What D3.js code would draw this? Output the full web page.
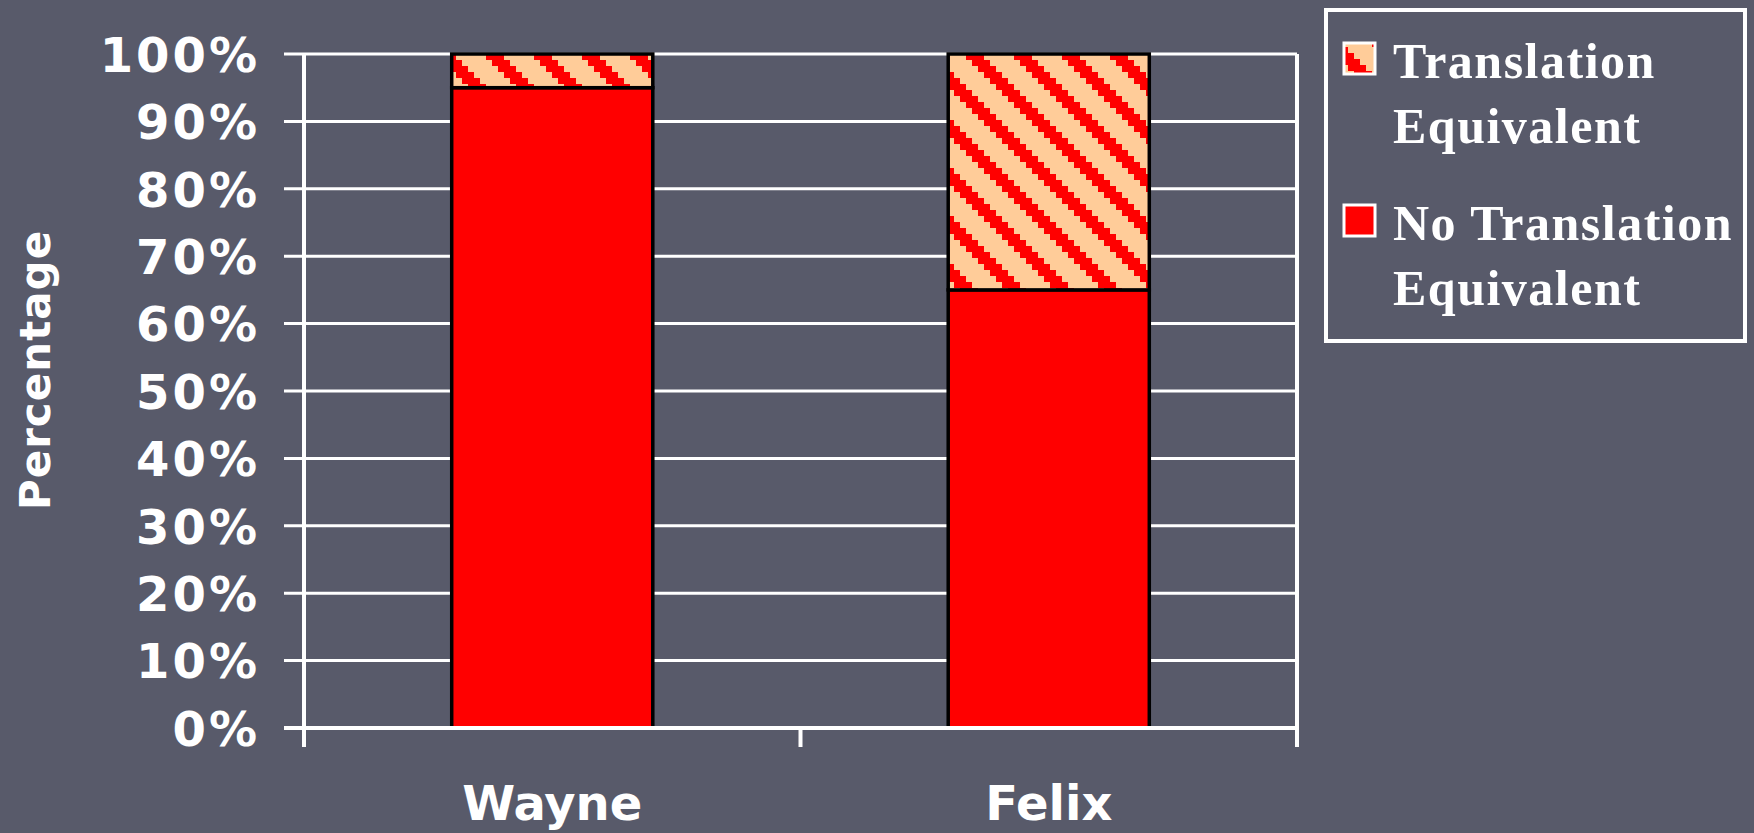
<!DOCTYPE html>
<html>
<head>
<meta charset="utf-8">
<script src="https://cdn.jsdelivr.net/npm/d3@7"></script>
<style>
  html, body { margin: 0; padding: 0; background: #585a6a; }
  svg { display: block; }
</style>
</head>
<body>
<script>
// data
const categories = ["Wayne", "Felix"]
const noTranslation = [95, 65]
const translation = [5, 35]
const seriesNames = ["Translation Equivalent", "No Translation Equivalent"]
const yTicks = [0, 10, 20, 30, 40, 50, 60, 70, 80, 90, 100]

const width = 1754, height = 833
const margin = ({ top: 54, right: 457, bottom: 105, left: 304 })
const bg = "#585a6a"
const red = "#ff0000", peach = "#ffcc99"

const svg = d3.select("body").append("svg")
    .attr("width", width)
    .attr("height", height)
    .attr("viewBox", [0, 0, width, height])

svg.append("rect").attr("width", width).attr("height", height).attr("fill", bg)

// hatch pattern, 8x8 cells like the office "wide downward diagonal"
const defs = svg.append("defs")
const makePattern = (id, cell, ox, oy) => {
    const p = defs.append("pattern")
        .attr("id", id)
        .attr("patternUnits", "userSpaceOnUse")
        .attr("x", ox || 0).attr("y", oy || 0)
        .attr("width", cell * 8).attr("height", cell * 8)
    p.append("rect").attr("width", cell * 8).attr("height", cell * 8).attr("fill", peach)
    const cells = []
    for (let j = 0; j < 8; j++)
        for (let i = 0; i < 8; i++)
            if (((i - j) % 8 + 8) % 8 < 3) cells.push([i, j])
    p.selectAll("rect.c").data(cells).join("rect")
        .attr("class", "c")
        .attr("x", d => d[0] * cell).attr("y", d => d[1] * cell)
        .attr("width", cell).attr("height", cell)
        .attr("fill", red)
}
makePattern("hatch", 6)
makePattern("hatchSmall", 6, 1330, 47)

const x = d3.scaleBand()
    .domain(categories)
    .range([margin.left, width - margin.right])
    .padding(0)

const y = d3.scaleLinear()
    .domain([0, 100])
    .range([height - margin.bottom, margin.top])

const x0 = margin.left, x1 = width - margin.right
const y0 = y(0)

// gridlines (they also make the left ticks)
svg.append("g")
    .attr("stroke", "#ffffff")
    .attr("stroke-width", 3)
  .selectAll("line")
  .data(yTicks)
  .join("line")
    .attr("x1", x0 - 20)
    .attr("x2", x1)
    .attr("y1", d => y(d))
    .attr("y2", d => y(d))

// category boundary ticks on the x axis
const bounds = categories.map(c => x(c)).concat([x1])
svg.append("g")
    .attr("stroke", "#ffffff")
    .attr("stroke-width", 4)
  .selectAll("line")
  .data(bounds)
  .join("line")
    .attr("x1", d => d).attr("x2", d => d)
    .attr("y1", y0).attr("y2", y0 + 19)

// left axis line + right border
svg.append("line")
    .attr("x1", x0).attr("x2", x0)
    .attr("y1", y(100)).attr("y2", y0 + 19)
    .attr("stroke", "#ffffff").attr("stroke-width", 4)
svg.append("line")
    .attr("x1", x1).attr("x2", x1)
    .attr("y1", y(100)).attr("y2", y0 + 19)
    .attr("stroke", "#ffffff").attr("stroke-width", 4)

// stacked bars
const table = categories.map((c, i) => ({ name: c, no: noTranslation[i], yes: translation[i] }))
const stack = d3.stack().keys(["no", "yes"])(table)
const fills = { no: red, yes: "url(#hatch)" }
const barW = x.bandwidth() * 0.405

svg.append("g")
  .selectAll("g")
  .data(stack)
  .join("g")
    .attr("fill", d => fills[d.key])
  .selectAll("rect")
  .data(d => d)
  .join("rect")
    .attr("x", d => x(d.data.name) + (x.bandwidth() - barW) / 2)
    .attr("y", d => y(d[1]))
    .attr("height", d => y(d[0]) - y(d[1]))
    .attr("width", barW)
    .attr("stroke", "#000000")
    .attr("stroke-width", 3.5)

// the zero line sits over the bar bottoms
svg.append("line")
    .attr("x1", x0 - 20).attr("x2", x1)
    .attr("y1", y0).attr("y2", y0)
    .attr("stroke", "#ffffff").attr("stroke-width", 4)

// y tick labels
const yAxis = g => g
    .attr("transform", `translate(${x0},0)`)
    .call(d3.axisLeft(y).tickValues(yTicks).tickFormat(d => d + "%").tickSize(0).tickPadding(44))
    .call(g => g.select(".domain").remove())
    .call(g => g.selectAll("text")
        .attr("fill", "#ffffff")
        .attr("font-family", "DejaVu Sans")
        .attr("font-weight", "bold")
        .attr("font-size", 48)
        .attr("letter-spacing", 3)
        .attr("dy", "0.36em"))
svg.append("g").call(yAxis)

// x labels
const xAxis = g => g
    .attr("transform", `translate(0,${y0})`)
    .call(d3.axisBottom(x).tickSize(0).tickPadding(0))
    .call(g => g.select(".domain").remove())
    .call(g => g.selectAll("text")
        .attr("fill", "#ffffff")
        .attr("font-family", "DejaVu Sans")
        .attr("font-weight", "bold")
        .attr("font-size", 48)
        .attr("y", 92)
        .attr("dy", 0))
svg.append("g").call(xAxis)

// y title
svg.append("text")
    .attr("transform", "translate(50,370) rotate(-90)")
    .attr("text-anchor", "middle")
    .attr("fill", "#ffffff")
    .attr("font-family", "DejaVu Sans")
    .attr("font-weight", "bold")
    .attr("font-size", 42)
    .attr("letter-spacing", 1)
    .text("Percentage")

// legend
const legend = svg.append("g")
legend.append("rect")
    .attr("x", 1326).attr("y", 10)
    .attr("width", 419).attr("height", 331)
    .attr("fill", "none")
    .attr("stroke", "#ffffff").attr("stroke-width", 4)

const legendFills = ["url(#hatchSmall)", red]
const legendRows = seriesNames.map((s, i) => ({ name: s, fill: legendFills[i], top: 43 + i * 162 }))

const items = legend.selectAll("g.item")
  .data(legendRows)
  .join("g")
    .attr("class", "item")
items.append("rect")
    .attr("x", 1344).attr("y", d => d.top)
    .attr("width", 31).attr("height", 31)
    .attr("fill", d => d.fill)
    .attr("stroke", "#ffffff").attr("stroke-width", 3)
items.append("text")
    .attr("x", 1393)
    .attr("y", d => d.top + 35)
    .attr("fill", "#ffffff")
    .attr("font-family", "Liberation Serif")
    .attr("font-weight", "bold")
    .attr("font-size", 50)
    .attr("letter-spacing", 1.5)
    .each(function (d) {
        const words = d.name.split(" ")
        const lines = [words.slice(0, -1).join(" "), words[words.length - 1]]
        d3.select(this).selectAll("tspan")
          .data(lines)
          .join("tspan")
            .attr("x", 1393)
            .attr("dy", (l, k) => k === 0 ? 0 : 65)
            .text(l => l)
    })
</script>
</body>
</html>
